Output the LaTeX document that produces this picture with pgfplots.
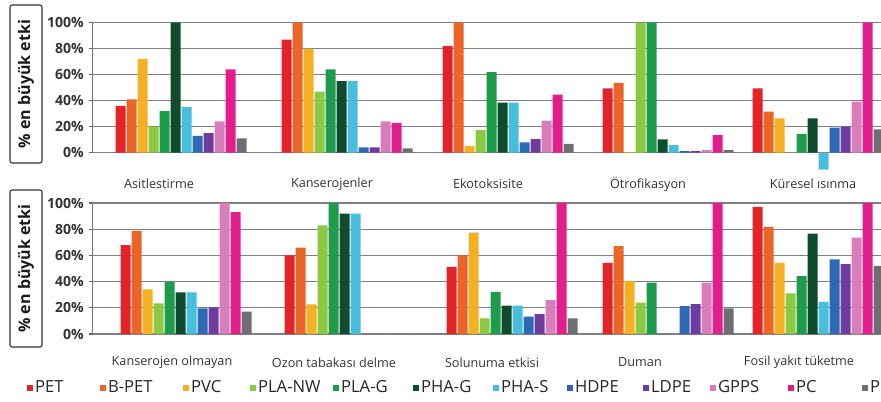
\documentclass[border=0pt]{standalone}
\usepackage{pgfplots}
\pgfplotsset{compat=1.18}
\usepackage{pgfplotstable}
\usepackage{fontspec}
\setmainfont{Open Sans}

\definecolor{cPET}{RGB}{226,35,40}
\definecolor{cBPET}{RGB}{235,100,40}
\definecolor{cPVC}{RGB}{245,175,35}
\definecolor{cPLANW}{RGB}{140,200,65}
\definecolor{cPLAG}{RGB}{30,155,75}
\definecolor{cPHAG}{RGB}{15,75,45}
\definecolor{cPHAS}{RGB}{70,190,220}
\definecolor{cHDPE}{RGB}{45,105,180}
\definecolor{cLDPE}{RGB}{110,60,160}
\definecolor{cGPPS}{RGB}{215,125,185}
\definecolor{cPC}{RGB}{225,30,140}
\definecolor{cPP}{RGB}{110,110,115}

\pgfplotstableread{
x PET BPET PVC PLANW PLAG PHAG PHAS HDPE LDPE GPPS PC PP
181 36 41 72 20 32 100 35 13 15 24 64 11
347 87 100 80 47 64 55 55 4 4 24 23 3.3
508 82 100 5 17.4 62 38.5 38.5 8 10.5 24.6 44.6 6.7
668 49.5 53.8 0.5 100 100 10.3 5.9 1.3 1.3 2 13.6 2
818 49.5 31.5 26.4 0 14.4 26.4 -13 19.2 20 39.2 100 18
}\datatop

\pgfplotstableread{
x PET BPET PVC PLANW PLAG PHAG PHAS HDPE LDPE GPPS PC PP
186 67.8 78.7 34 23.4 39.8 31.7 31.7 19.5 20.3 100 93 17
350 60 66 22.6 83 100 92 92 0 0 0 0 0
512 51.3 60 77.4 12 32.2 21.6 21.6 13.2 15.2 25.9 100 12
668 54.3 67 40.6 23.9 39.3 0 0 21.3 22.8 39.3 100 19.5
818 97 81.7 54.3 31 44.2 76.6 24.6 56.9 53.3 73.6 100 52
}\databot

\pgfplotsset{
  panel/.style={
    scale only axis, width=598.125pt,
    xmin=92.5, xmax=890, ymax=100,
    enlargelimits=false, clip=false,
    ybar, bar width=10,
    axis line style={draw=none},
    ytick={0,20,40,60,80,100},
    ymajorgrids, grid style={black!50, line width=0.9pt},
    yticklabel={\pgfmathprintnumber[assume math mode=true]{\tick}\%},
    ytick pos=left, tick align=outside,
    ytick style={black!60, line width=0.8pt},
    major tick length=3pt,
    xtick style={draw=none},
    xticklabel style={anchor=center, font=\fontsize{9.5}{11}\selectfont, text=black!80},
    yticklabel style={font=\bfseries\fontsize{10.5}{12}\selectfont, text=black!80},
  },
}

\newcommand{\allbars}[1]{%
  \addplot[fill=cPET, draw=none, bar shift=-60.5] table[x=x,y=PET]{#1};
  \addplot[fill=cBPET, draw=none, bar shift=-49.5] table[x=x,y=BPET]{#1};
  \addplot[fill=cPVC, draw=none, bar shift=-38.5] table[x=x,y=PVC]{#1};
  \addplot[fill=cPLANW, draw=none, bar shift=-27.5] table[x=x,y=PLANW]{#1};
  \addplot[fill=cPLAG, draw=none, bar shift=-16.5] table[x=x,y=PLAG]{#1};
  \addplot[fill=cPHAG, draw=none, bar shift=-5.5] table[x=x,y=PHAG]{#1};
  \addplot[fill=cPHAS, draw=none, bar shift=5.5] table[x=x,y=PHAS]{#1};
  \addplot[fill=cHDPE, draw=none, bar shift=16.5] table[x=x,y=HDPE]{#1};
  \addplot[fill=cLDPE, draw=none, bar shift=27.5] table[x=x,y=LDPE]{#1};
  \addplot[fill=cGPPS, draw=none, bar shift=38.5] table[x=x,y=GPPS]{#1};
  \addplot[fill=cPC, draw=none, bar shift=49.5] table[x=x,y=PC]{#1};
  \addplot[fill=cPP, draw=none, bar shift=60.5] table[x=x,y=PP]{#1};
  \draw[black!55, line width=0.9pt] (axis cs:92.5,0) -- (axis cs:92.5,100);
}

\begin{document}
\begin{tikzpicture}
\path[use as bounding box, clip] (0,0) rectangle (660.75pt,301.5pt);

\node[draw=black!80, line width=0.8pt, rounded corners=1.5pt, rotate=90,
      minimum width=118.5pt, minimum height=24pt, inner sep=0pt,
      font=\bfseries\fontsize{12}{14}\selectfont, text=black!90]
      at (19.5pt,238.5pt) {\% en büyük etki};
\node[draw=black!80, line width=0.8pt, rounded corners=1.5pt, rotate=90,
      minimum width=117.75pt, minimum height=24pt, inner sep=0pt,
      font=\bfseries\fontsize{12}{14}\selectfont, text=black!90]
      at (19.5pt,100.1pt) {\% en büyük etki};

\begin{axis}[panel, at={(69.375pt,166.5pt)}, anchor=south west,
  ymin=-21, height=117.975pt,
  xtick={159,332,488,648,813},
  xticklabels={Asitlestirme,Kanserojenler,Ekotoksisite,Ötrofikasyon,Küresel ısınma}]
\allbars{\datatop}
\end{axis}

\begin{axis}[panel, at={(69.375pt,32.625pt)}, anchor=south west,
  ymin=-18.7, height=116.6pt,
  xtick={172,334,492,640,799},
  xticklabels={Kanserojen olmayan,Ozon tabakası delme,Solunuma etkisi,Duman,Fosil yakıt tüketme},
  legend columns=12,
  legend style={draw=none, fill=none, inner sep=0pt, outer sep=0pt,
    at={(axis description cs:-0.0821,-0.1887)}, anchor=west,
    column sep=0pt, nodes={inner sep=0pt, outer sep=0pt},
    font=\fontsize{12.5}{14}\selectfont, text=black!85},
  legend image code/.code={\path (0pt,0pt) -- (6pt,0pt); \fill[#1] (0pt,-2.25pt) rectangle (4.5pt,2.25pt);},
  legend entries={\makebox[48.75pt][l]{PET},\makebox[56.25pt][l]{B-PET},\makebox[44.25pt][l]{PVC},\makebox[56.25pt][l]{PLA-NW},\makebox[54pt][l]{PLA-G},\makebox[54pt][l]{PHA-G},\makebox[49.5pt][l]{PHA-S},\makebox[51pt][l]{HDPE},\makebox[44.25pt][l]{LDPE},\makebox[52.5pt][l]{GPPS},\makebox[49.5pt][l]{PC},\makebox[30pt][l]{PP}}]
\allbars{\databot}
\end{axis}
\end{tikzpicture}
\end{document}
